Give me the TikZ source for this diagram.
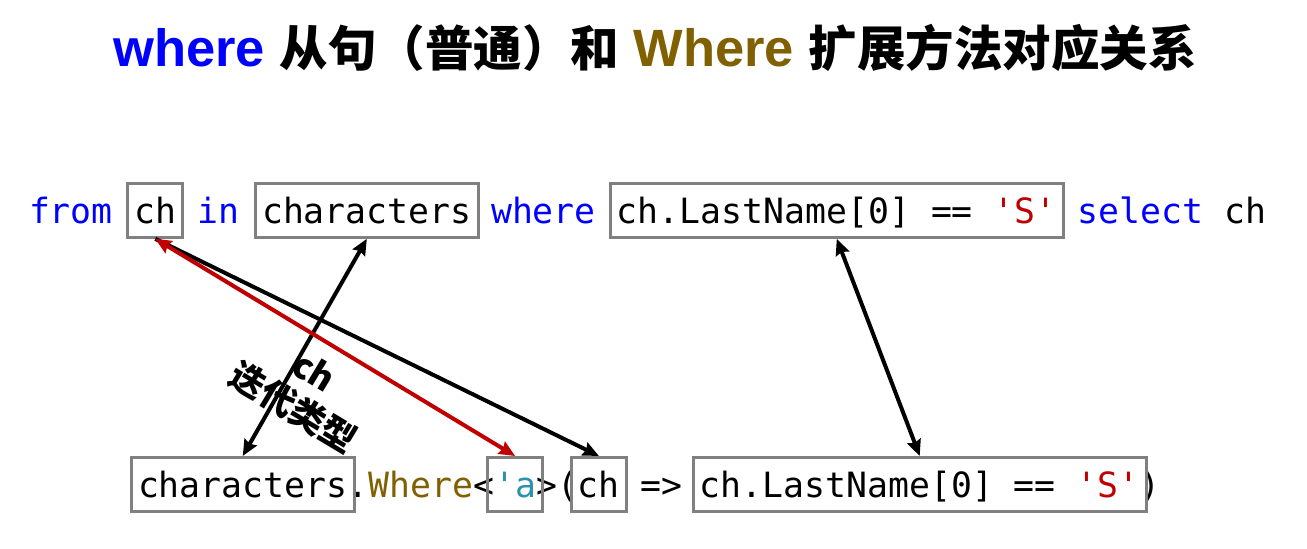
\documentclass[tikz,border=0pt]{standalone}
\usepackage{fontspec}
\usetikzlibrary{fit,arrows.meta}
\setmainfont{Liberation Sans}
\setmonofont{DejaVu Sans Mono}
\newfontfamily\cjk{Noto Sans CJK SC}
\definecolor{kw}{RGB}{0,0,255}
\definecolor{ext}{RGB}{128,96,0}
\definecolor{strc}{RGB}{192,0,0}
\definecolor{typc}{RGB}{43,145,175}
\definecolor{boxc}{RGB}{128,128,128}
\definecolor{arrred}{RGB}{192,0,0}
\tikzset{
  code/.style={font=\ttfamily\fontsize{34.8}{40}\selectfont, inner sep=0pt, outer sep=0pt,
               anchor=base west, text height=32pt, text depth=6pt},
  frame/.style={draw=boxc, line width=3pt, inner xsep=6.5pt, inner ysep=8pt},
  link/.style={line width=4pt, {Stealth[length=16pt,width=14pt,inset=2pt]}-{Stealth[length=16pt,width=14pt,inset=2pt]}},
  onelink/.style={line width=4pt, -{Stealth[length=16pt,width=14pt,inset=2pt]}},
}
\begin{document}
\begin{tikzpicture}[x=1pt,y=-1pt]
\fill[white] (0,0) rectangle (1307,549);
\useasboundingbox (0,0) rectangle (1307,549);

% title
\node[anchor=base, inner sep=0pt, font=\bfseries\fontsize{52.5}{60}\selectfont] (title) at (655,66.7)
  {{\color{kw}where} {\cjk\fontsize{48.5}{60}\selectfont 从句（普通）和} {\color{ext}Where} {\cjk\fontsize{48.5}{60}\selectfont 扩展方法对应关系}};

% top row
\node[code, text=kw] (t1) at (29,223.3) {from};
\node[code] (t2) at ([xshift=21.5pt]t1.base east) {ch};
\node[code, text=kw] (t3) at ([xshift=20.95pt]t2.base east) {in};
\node[code] (t4) at ([xshift=23pt]t3.base east) {characters};
\node[code, text=kw] (t5) at ([xshift=19.5pt]t4.base east) {where};
\node[code] (t6) at ([xshift=20.95pt]t5.base east) {ch.LastName[0] == {\color{strc}'S'}};
\node[code, text=kw] (t7) at ([xshift=20.95pt]t6.base east) {select};
\node[code] (t8) at ([xshift=20.95pt]t7.base east) {ch};

\node[frame, fit=(t2)] (A) {};
\node[frame, fit=(t4)] (B) {};
\node[frame, fit=(t6)] (C) {};

% bottom row
\node[code] (b1) at (138,497.5) {characters};
\node[code] (b2) at (b1.base east) {.{\color{ext}Where}<};
\node[code, text=typc] (b3) at (b2.base east) {'a};
\node[code] (b4) at (b3.base east) {>(};
\node[code] (b5) at (b4.base east) {ch};
\node[code] (b6) at ([xshift=20.95pt]b5.base east) {=>};
\node[code] (b7) at ([xshift=17pt]b6.base east) {ch.LastName[0] == {\color{strc}'S'}};
\node[code] (b8) at (b7.base east) {)};

\node[frame, fit=(b1)] (D) {};
\node[frame, fit=(b3)] (E) {};
\node[frame, fit=(b5)] (F) {};
\node[frame, fit=(b7)] (G) {};

% connectors
\draw[link] (B.south) -- (D.north);
\draw[link] (C.south) -- (G.north);
\draw[onelink] (A.south) -- (F.north);
\draw[link, draw=arrred, fill=arrred] (A.south) -- (E.north);

% label
\node[rotate=-31, align=center, inner sep=0pt, font=\cjk\bfseries\fontsize{35}{41}\selectfont] (lbl) at (303,390) {ch\\迭代类型};
\end{tikzpicture}
\end{document}
